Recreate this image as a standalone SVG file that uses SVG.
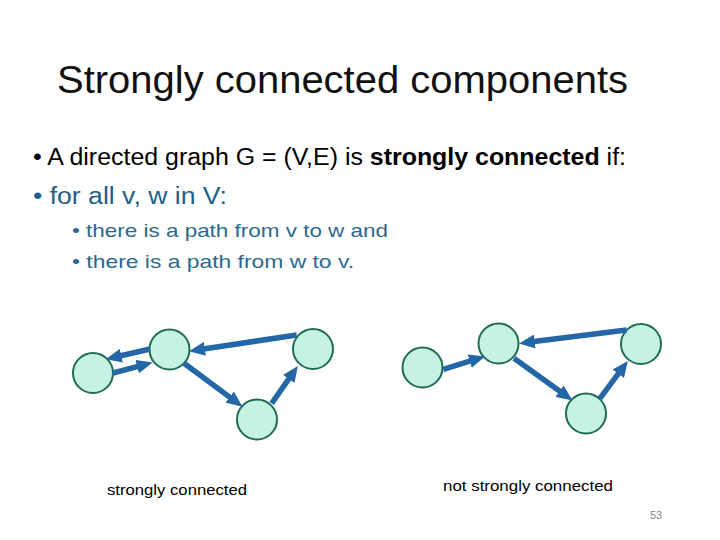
<svg xmlns="http://www.w3.org/2000/svg" width="720" height="540" viewBox="0 0 720 540">
<style>
.node{fill:#c6f2e2;stroke:#1f6b56;stroke-width:2}
.edge{stroke:#2467a6;stroke-width:5.5;fill:none}
.t{font-family:"Liberation Sans",Arial,sans-serif}
</style>
<defs>
<marker id="ah" markerUnits="userSpaceOnUse" markerWidth="16" markerHeight="14" viewBox="0 0 16 14" refX="5" refY="7" orient="auto">
<path d="M0,0 L16,7 L0,14 z" fill="#2467a6"/>
</marker>
</defs>
<rect width="720" height="540" fill="#ffffff"/>
<text class="t" x="57" y="93" font-size="38" fill="#111" textLength="571" lengthAdjust="spacingAndGlyphs">Strongly connected components</text>
<text class="t" x="33" y="165" font-size="23" fill="#000" textLength="593" lengthAdjust="spacingAndGlyphs">• A directed graph G = (V,E) is <tspan font-weight="bold">strongly connected</tspan> if:</text>
<text class="t" x="33" y="204" font-size="23" fill="#235f8a" textLength="194" lengthAdjust="spacingAndGlyphs">• for all v, w in V:</text>
<text class="t" x="72" y="237" font-size="19" fill="#2b6a8e" textLength="316" lengthAdjust="spacingAndGlyphs">• there is a path from v to w and</text>
<text class="t" x="72" y="268" font-size="19" fill="#2b6a8e" textLength="282" lengthAdjust="spacingAndGlyphs">• there is a path from w to v.</text>
<g id="left-A"><circle class="node" cx="93" cy="373" r="20"/></g>
<g id="left-B"><circle class="node" cx="169.5" cy="349.5" r="20"/></g>
<g id="left-C"><circle class="node" cx="313" cy="349" r="20"/></g>
<g id="left-D"><circle class="node" cx="257" cy="419.5" r="20"/></g>
<g id="right-A"><circle class="node" cx="422.5" cy="367.5" r="20"/></g>
<g id="right-B"><circle class="node" cx="498.5" cy="343.5" r="20"/></g>
<g id="right-C"><circle class="node" cx="641" cy="344" r="20"/></g>
<g id="right-D"><circle class="node" cx="586" cy="413.5" r="20"/></g>
<g id="connectors">
<line class="edge" x1="150" y1="349" x2="116.5" y2="356.8" marker-end="url(#ah)"/>
<line class="edge" x1="113" y1="373" x2="142" y2="365.3" marker-end="url(#ah)"/>
<line class="edge" x1="296.7" y1="335" x2="199.9" y2="349.5" marker-end="url(#ah)"/>
<line class="edge" x1="184" y1="363.3" x2="233.7" y2="400.1" marker-end="url(#ah)"/>
<line class="edge" x1="271.7" y1="403.3" x2="291.6" y2="374.9" marker-end="url(#ah)"/>
<line class="edge" x1="443.3" y1="369.3" x2="474.5" y2="359.7" marker-end="url(#ah)"/>
<line class="edge" x1="626.7" y1="330" x2="529.9" y2="342.1" marker-end="url(#ah)"/>
<line class="edge" x1="514" y1="358.3" x2="563.6" y2="394.1" marker-end="url(#ah)"/>
<line class="edge" x1="600" y1="398.3" x2="621.3" y2="369.7" marker-end="url(#ah)"/>
</g>
<text class="t" x="107" y="495" font-size="15" fill="#000" textLength="140" lengthAdjust="spacingAndGlyphs">strongly connected</text>
<text class="t" x="443" y="491" font-size="15" fill="#000" textLength="170" lengthAdjust="spacingAndGlyphs">not strongly connected</text>
<text class="t" x="650" y="519" font-size="11" fill="#888">53</text>
</svg>
